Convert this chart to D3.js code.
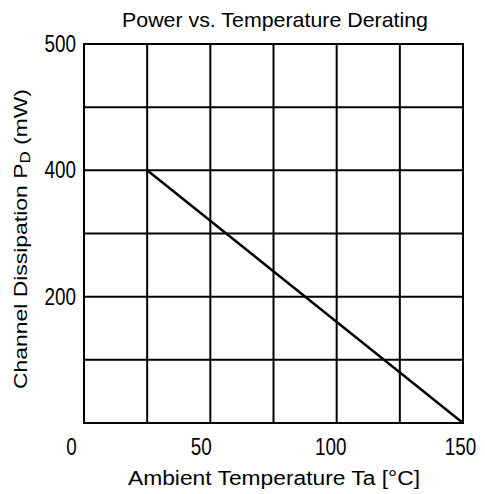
<!DOCTYPE html>
<html>
<head>
<meta charset="utf-8">
<script src="https://cdn.jsdelivr.net/npm/d3@7"></script>
<style>
  body { margin: 0; background: #fff; }
  text { font-family: "Liberation Sans", Arial, sans-serif; fill: #000; }
</style>
</head>
<body>
<svg id="chart"></svg>
<script>
var width = 485,
    height = 494

// data
var temps = [25, 150]          // ambient temperature, °C
var power = [400, 0]           // channel dissipation, mW
var xTicks = [0, 50, 100, 150]
var xGrid = [0, 25, 50, 75, 100, 125, 150]
var yGrid = [0, 100, 200, 300, 400, 500, 600]
var yTicks = [200, 400, 600]
var yTickLabels = ["200", "400", "500"]

var margin = { top: 44, right: 22, bottom: 71, left: 84 }

var svg = d3.select("#chart")
    .attr("width", width)
    .attr("height", height)

var x = d3.scaleLinear()
    .domain([0, 150])
    .range([margin.left, width - margin.right])
var y = d3.scaleLinear()
    .domain([0, 600])
    .range([height - margin.bottom, margin.top])
// tick labels in the original sit a bit wider than the grid
var xLab = d3.scaleLinear()
    .domain([0, 150])
    .range([71, 460])

// grid
svg.append("g")
    .selectAll("line")
    .data(xGrid)
    .enter().append("line")
    .attr("x1", function (d) { return x(d) })
    .attr("x2", function (d) { return x(d) })
    .attr("y1", y(0))
    .attr("y2", y(600))
    .attr("stroke", "#000")
    .attr("stroke-width", 2)
svg.append("g")
    .selectAll("line")
    .data(yGrid)
    .enter().append("line")
    .attr("y1", function (d) { return y(d) })
    .attr("y2", function (d) { return y(d) })
    .attr("x1", x(0) - 1)
    .attr("x2", x(150) + 1)
    .attr("stroke", "#000")
    .attr("stroke-width", 2)

// narrow, tall digits like the original
function squeeze(sel) {
    sel.attr("lengthAdjust", "spacingAndGlyphs")
        .attr("textLength", function () { return this.textContent.length * 10.5 })
}

// x axis labels
var gx = svg.append("g")
    .attr("transform", "translate(0," + y(0) + ")")
    .call(d3.axisBottom(xLab).tickValues(xTicks).tickSize(0).tickPadding(16))
gx.select(".domain").remove()
gx.selectAll("text")
    .style("font-size", "23px")
    .attr("font-family", null)
    .call(squeeze)

// y axis labels
var gy = svg.append("g")
    .attr("transform", "translate(" + (x(0) - 8) + ",0)")
    .call(d3.axisLeft(y).tickValues(yTicks).tickSize(0).tickPadding(0)
        .tickFormat(function (d, i) { return yTickLabels[i] }))
gy.select(".domain").remove()
gy.selectAll("text")
    .style("font-size", "23px")
    .attr("font-family", null)
    .call(squeeze)

// derating line
var line = d3.line()
    .x(function (d) { return x(d[0]) })
    .y(function (d) { return y(d[1]) })
svg.append("path")
    .datum(d3.zip(temps, power))
    .attr("d", line)
    .attr("fill", "none")
    .attr("stroke", "#000")
    .attr("stroke-width", 2.5)

// titles
svg.append("text")
    .attr("x", 275)
    .attr("y", 27)
    .attr("text-anchor", "middle")
    .attr("lengthAdjust", "spacingAndGlyphs")
    .attr("textLength", 306)
    .style("font-size", "21px")
    .text("Power vs. Temperature Derating")

svg.append("text")
    .attr("x", 274)
    .attr("y", 485)
    .attr("text-anchor", "middle")
    .attr("lengthAdjust", "spacingAndGlyphs")
    .attr("textLength", 292)
    .style("font-size", "20px")
    .text("Ambient Temperature  Ta  [°C]")

var yt = svg.append("text")
    .attr("transform", "translate(27,239) rotate(-90)")
    .attr("text-anchor", "middle")
    .attr("lengthAdjust", "spacingAndGlyphs")
    .attr("textLength", 300)
    .style("font-size", "19px")
yt.append("tspan").text("Channel Dissipation  P")
yt.append("tspan").attr("dy", 3).style("font-size", "14px").text("D")
yt.append("tspan").attr("dy", -3).text("  (mW)")
</script>
</body>
</html>
